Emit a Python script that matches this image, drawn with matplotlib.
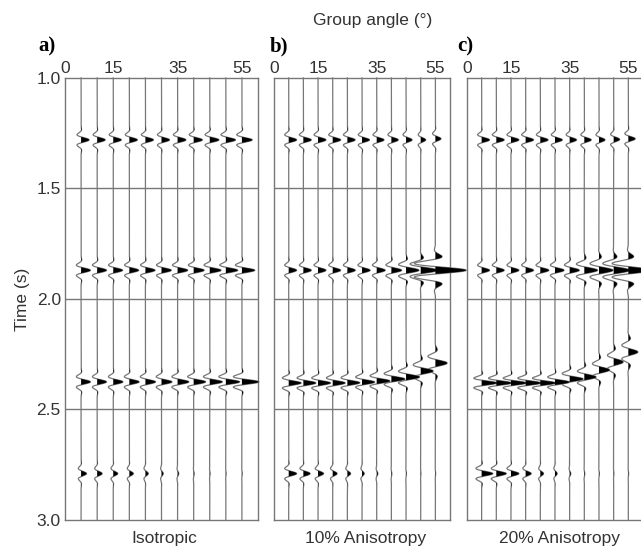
import numpy as np
import matplotlib.pyplot as plt

plt.rcParams['font.family'] = ['Liberation Sans', 'DejaVu Sans']

# ---- chart values ----
angles = [5, 10, 15, 20, 25, 30, 35, 40, 45, 50, 55]
angle_ticks = [0, 15, 35, 55]
time_ticks = [1.0, 1.5, 2.0, 2.5, 3.0]
grid_times = [1.5, 2.0, 2.5]
panel_letters = ["a)", "b)", "c)"]
panel_titles = ["Isotropic", "10% Anisotropy", "20% Anisotropy"]

# each reflection, per angle: arrival time (s), peak amplitude (trace
# spacings), dominant frequency (Hz) and wavelet length (cycles)
a_time1 = [1.28, 1.28, 1.28, 1.28, 1.28, 1.28, 1.28, 1.28, 1.28, 1.28, 1.28]
a_amp1 = [0.50, 0.50, 0.50, 0.50, 0.50, 0.50, 0.52, 0.54, 0.57, 0.60, 0.64]
a_time2 = [1.87, 1.87, 1.87, 1.87, 1.87, 1.87, 1.87, 1.87, 1.87, 1.87, 1.87]
a_amp2 = [0.58, 0.58, 0.58, 0.58, 0.60, 0.61, 0.63, 0.65, 0.70, 0.74, 0.80]
a_time3 = [2.375, 2.375, 2.375, 2.375, 2.375, 2.375, 2.375, 2.375, 2.375, 2.375, 2.375]
a_amp3 = [0.58, 0.58, 0.60, 0.61, 0.63, 0.65, 0.70, 0.74, 0.78, 0.86, 1.05]
a_time4 = [2.79, 2.79, 2.79, 2.79, 2.79, 2.79, 2.79, 2.79, 2.79, 2.79, 2.79]
a_amp4 = [0.34, 0.31, 0.28, 0.25, 0.18, 0.11, 0.07, 0.035, 0.025, 0.02, 0.02]

b_time1 = [1.28, 1.28, 1.28, 1.28, 1.28, 1.28, 1.28, 1.28, 1.28, 1.28, 1.275]
b_amp1 = [0.54, 0.54, 0.54, 0.54, 0.53, 0.51, 0.50, 0.47, 0.41, 0.34, 0.38]
b_time2 = [1.87, 1.87, 1.87, 1.87, 1.87, 1.87, 1.87, 1.87, 1.87, 1.87, 1.87]
b_amp2 = [0.54, 0.54, 0.54, 0.54, 0.54, 0.55, 0.58, 0.70, 0.88, 1.15, 2.10]
b_freq2 = [18.5, 18.5, 18.5, 18.5, 18.5, 18.5, 18.5, 18, 17, 16, 15]
b_cyc2 = [0.40, 0.40, 0.40, 0.40, 0.40, 0.40, 0.40, 0.42, 0.45, 0.50, 0.55]
b_time3 = [2.380, 2.380, 2.380, 2.380, 2.379, 2.376, 2.371, 2.362, 2.353, 2.326, 2.290]
b_amp3 = [0.85, 0.85, 0.85, 0.85, 0.85, 0.86, 0.90, 0.92, 0.92, 0.85, 0.80]
b_freq3 = [19, 19, 19, 19, 19, 19, 18.5, 18, 17, 16, 15]
b_cyc3 = [0.40, 0.40, 0.40, 0.40, 0.40, 0.40, 0.40, 0.42, 0.44, 0.47, 0.50]
b_time4 = [2.79, 2.79, 2.79, 2.79, 2.79, 2.79, 2.79, 2.79, 2.79, 2.79, 2.79]
b_amp4 = [0.54, 0.46, 0.38, 0.30, 0.22, 0.15, 0.08, 0.035, 0.025, 0.02, 0.02]

c_time1 = [1.28, 1.28, 1.28, 1.28, 1.28, 1.28, 1.28, 1.28, 1.28, 1.278, 1.275]
c_amp1 = [0.54, 0.54, 0.54, 0.54, 0.53, 0.50, 0.47, 0.47, 0.41, 0.41, 0.47]
c_time2 = [1.87, 1.87, 1.87, 1.87, 1.87, 1.87, 1.87, 1.87, 1.87, 1.87, 1.87]
c_amp2 = [0.54, 0.54, 0.54, 0.54, 0.58, 0.62, 0.66, 0.90, 0.95, 1.10, 1.60]
c_freq2 = [18.5, 18.5, 18.5, 18.5, 18.5, 18.5, 18, 16, 15, 15, 15]
c_cyc2 = [0.40, 0.40, 0.40, 0.40, 0.40, 0.40, 0.42, 0.47, 0.51, 0.54, 0.56]
c_time3 = [2.380, 2.380, 2.380, 2.380, 2.380, 2.376, 2.362, 2.353, 2.321, 2.285, 2.240]
c_amp3 = [1.05, 1.05, 1.05, 1.05, 1.05, 0.98, 0.92, 0.80, 0.72, 0.65, 0.65]
c_freq3 = [20, 20, 20, 20, 20, 19, 18, 17, 16, 15, 15]
c_cyc3 = [0.40, 0.40, 0.40, 0.40, 0.40, 0.40, 0.43, 0.46, 0.49, 0.52, 0.55]
c_time4 = [2.79, 2.79, 2.79, 2.79, 2.79, 2.79, 2.79, 2.79, 2.79, 2.79, 2.79]
c_amp4 = [0.76, 0.68, 0.54, 0.38, 0.22, 0.15, 0.08, 0.035, 0.025, 0.02, 0.02]

# plain reflections share one wavelet
base_freq = [18.5, 18.5, 18.5, 18.5, 18.5, 18.5, 18.5, 18.5, 18.5, 18.5, 18.5]
base_cyc = [0.40, 0.40, 0.40, 0.40, 0.40, 0.40, 0.40, 0.40, 0.40, 0.40, 0.40]

panel_events = [
    [(a_time1, a_amp1, base_freq, base_cyc), (a_time2, a_amp2, base_freq, base_cyc),
     (a_time3, a_amp3, base_freq, base_cyc), (a_time4, a_amp4, base_freq, base_cyc)],
    [(b_time1, b_amp1, base_freq, base_cyc), (b_time2, b_amp2, b_freq2, b_cyc2),
     (b_time3, b_amp3, b_freq3, b_cyc3), (b_time4, b_amp4, base_freq, base_cyc)],
    [(c_time1, c_amp1, base_freq, base_cyc), (c_time2, c_amp2, c_freq2, c_cyc2),
     (c_time3, c_amp3, c_freq3, c_cyc3), (c_time4, c_amp4, base_freq, base_cyc)],
]


def wavelet(t, f, cycles):
    """Zero phase gaussian windowed cosine (Ricker like for ~0.4 cycles)."""
    sigma = cycles / f
    return np.cos(2 * np.pi * f * t) * np.exp(-0.5 * (t / sigma) ** 2)


trace_col = "#777777"
text_col = "#333333"
spacing = angles[1] - angles[0]
tt = np.linspace(1.0, 3.0, 4000)

fig = plt.figure(figsize=(6.41, 5.48), dpi=100)
# axes boxes in figure fractions (left, bottom, width, height)
boxes = [(0.1014, 0.0511, 0.3011, 0.8066),
         (0.4275, 0.0511, 0.2746, 0.8066),
         (0.7285, 0.0511, 0.2746, 0.8066)]
letter_x = [0.060, 0.421, 0.714]
title_x = [0.257, 0.570, 0.873]

for ip, box in enumerate(boxes):
    ax = fig.add_axes(box)
    ax.set_xlim(0, 60)
    ax.set_ylim(3.0, 1.0)
    for g in grid_times:
        ax.axhline(g, color=trace_col, lw=1.0, zorder=1)
    for it, ang in enumerate(angles):
        trace = np.zeros_like(tt)
        for times, amps, freqs, cycs in panel_events[ip]:
            trace += amps[it] * wavelet(tt - times[it], freqs[it], cycs[it])
        trace[np.abs(trace) < 1e-3] = 0.0
        xx = ang + spacing * trace
        ax.plot(xx, tt, color=trace_col, lw=0.9, zorder=2, clip_on=False)
        ax.fill_betweenx(tt, ang, xx, where=trace > 0, color="black",
                         lw=0, zorder=3, clip_on=False)
    ax.xaxis.tick_top()
    ax.set_xticks(angle_ticks)
    ax.set_xticklabels([str(a) for a in angle_ticks])
    ax.tick_params(axis="x", length=0, pad=1.5, labelsize=12.5, colors=text_col)
    if ip == 0:
        ax.set_yticks(time_ticks)
        ax.set_yticklabels(["%.1f" % v for v in time_ticks])
        ax.tick_params(axis="y", length=0, pad=3, labelsize=12.5, colors=text_col)
        ax.set_ylabel("Time (s)", fontsize=12.5, color=text_col, labelpad=5)
    else:
        ax.set_yticks([])
    for s in ax.spines.values():
        s.set_color(trace_col)
        s.set_linewidth(1.0)
    fig.text(letter_x[ip], 0.916, panel_letters[ip], fontsize=15, fontweight="bold",
             family=["Liberation Serif", "DejaVu Serif"], ha="left", va="center")
    fig.text(title_x[ip], 0.018, panel_titles[ip], fontsize=12.5, color=text_col,
             ha="center", va="center")

fig.text(0.581, 0.963, "Group angle (°)", fontsize=12.5, color=text_col,
         ha="center", va="center")

fig.savefig("out.png", dpi=100)
